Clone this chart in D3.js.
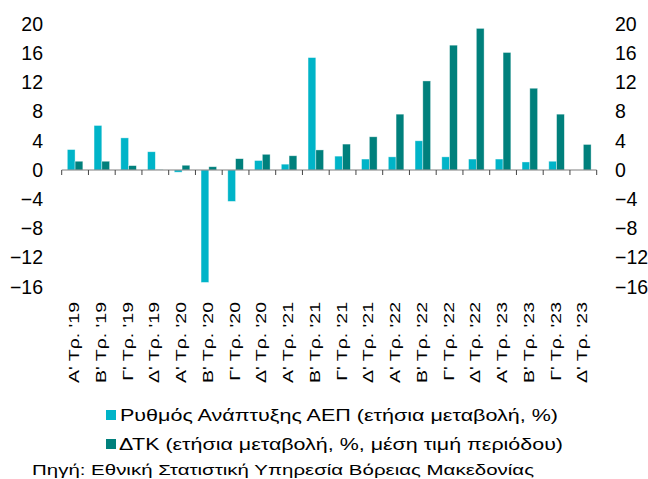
<!DOCTYPE html>
<html>
<head>
<meta charset="utf-8">
<script src="https://cdn.jsdelivr.net/npm/d3@7"></script>
<style>
  html, body { margin: 0; padding: 0; background: #fff; }
  svg { display: block; font-family: "Liberation Sans", Arial, sans-serif; }
</style>
</head>
<body>
<svg id="chart" width="648" height="479"></svg>
<script>
// Quarters shown on the category axis
const quarters = [
  "Α' Τρ. '19", "Β' Τρ. '19", "Γ' Τρ. '19", "Δ' Τρ. '19",
  "Α' Τρ. '20", "Β' Τρ. '20", "Γ' Τρ. '20", "Δ' Τρ. '20",
  "Α' Τρ. '21", "Β' Τρ. '21", "Γ' Τρ. '21", "Δ' Τρ. '21",
  "Α' Τρ. '22", "Β' Τρ. '22", "Γ' Τρ. '22", "Δ' Τρ. '22",
  "Α' Τρ. '23", "Β' Τρ. '23", "Γ' Τρ. '23", "Δ' Τρ. '23"
];

// GDP growth rate, y/y %
const gdpGrowth = [2.8, 6.1, 4.4, 2.5, -0.3, -15.4, -4.3, 1.3, 0.8, 15.4,
                   1.9, 1.5, 1.8, 4.0, 1.8, 1.5, 1.5, 1.1, 1.2, null];

// CPI, y/y %, period average
const cpi = [1.2, 1.2, 0.6, 0.05, 0.65, 0.45, 1.55, 2.15, 1.95, 2.75,
             3.55, 4.55, 7.65, 12.2, 17.1, 19.4, 16.1, 11.2, 7.65, 3.5];

const yTicks = [20, 16, 12, 8, 4, 0, -4, -8, -12, -16];

const seriesNames = [
  "Ρυθμός Ανάπτυξης ΑΕΠ (ετήσια μεταβολή, %)",
  "ΔΤΚ (ετήσια μεταβολή, %, μέση τιμή περιόδου)"
];
const sourceText = "Πηγή: Εθνική Στατιστική Υπηρεσία  Βόρειας  Μακεδονίας";

const colors = ["#00B4C8", "#00807C"];

const svg = d3.select("#chart");

const x = d3.scaleBand().domain(quarters).range([61.7, 596.7]).padding(0);
const bw = x.bandwidth();
const xInner = d3.scaleBand().domain([0, 1]).range([5.6, bw - 5.6]).padding(0);
const y = d3.scaleLinear().domain([-16, 20]).range([286.8, 24]);

// Bars
const seriesData = [gdpGrowth, cpi];
seriesData.forEach((vals, si) => {
  svg.append("g")
    .selectAll("rect")
    .data(vals.map((v, i) => ({ q: quarters[i], v })).filter(d => d.v !== null))
    .join("rect")
    .attr("x", d => x(d.q) + xInner(si))
    .attr("width", xInner.bandwidth())
    .attr("y", d => y(Math.max(0, d.v)))
    .attr("height", d => Math.abs(y(d.v) - y(0)))
    .attr("fill", colors[si])
    .attr("stroke", "rgba(255,255,255,0.55)")
    .attr("stroke-width", 0.7);
});

// Category axis line at zero with tick marks between groups
const axisG = svg.append("g").attr("transform", `translate(0,${y(0)})`);
axisG.append("line")
  .attr("x1", x.range()[0]).attr("x2", x.range()[1])
  .attr("stroke", "#7f7f7f").attr("stroke-width", 1.2);
const boundaries = quarters.map(q => x(q)).concat([x.range()[1]]);
axisG.selectAll("line.tick")
  .data(boundaries)
  .join("line")
  .attr("class", "tick")
  .attr("x1", d => d).attr("x2", d => d)
  .attr("y1", 0).attr("y2", 5)
  .attr("stroke", "#444").attr("stroke-width", 1);

// Rotated quarter labels at the bottom of the plot, stretched along their reading direction
svg.append("g")
  .selectAll("text")
  .data(quarters)
  .join("text")
  .attr("transform", d => `translate(${x(d) + bw / 2 + 4},302) rotate(-90) scale(1.3,1)`)
  .attr("text-anchor", "end")
  .attr("font-size", 15)
  .attr("fill", "#000")
  .text(d => d);

// Left and right value axes
const leftAxis = d3.axisLeft(y).tickValues(yTicks).tickSize(0).tickPadding(0);
svg.append("g")
  .attr("transform", "translate(43,0)")
  .call(leftAxis)
  .call(g => g.select(".domain").remove())
  .call(g => g.selectAll("text")
    .attr("font-size", 19.5)
    .attr("font-family", "Liberation Sans, Arial, sans-serif")
    .attr("fill", "#000"));

const rightAxis = d3.axisRight(y).tickValues(yTicks).tickSize(0).tickPadding(0);
svg.append("g")
  .attr("transform", "translate(615,0)")
  .call(rightAxis)
  .call(g => g.select(".domain").remove())
  .call(g => g.selectAll("text")
    .attr("font-size", 19.5)
    .attr("font-family", "Liberation Sans, Arial, sans-serif")
    .attr("fill", "#000"));

// Legend
const legendRows = [
  { sq: [106, 410], tx: [120, 421], end: 558 },
  { sq: [106, 439], tx: [119, 450], end: 563 }
];
seriesNames.forEach((name, i) => {
  const r = legendRows[i];
  svg.append("rect")
    .attr("x", r.sq[0]).attr("y", r.sq[1])
    .attr("width", 10).attr("height", 10)
    .attr("fill", colors[i]);
  svg.append("text")
    .attr("x", r.tx[0]).attr("y", r.tx[1])
    .attr("font-size", 16.5)
    .attr("textLength", r.end - r.tx[0])
    .attr("lengthAdjust", "spacingAndGlyphs")
    .attr("fill", "#000")
    .text(name);
});

// Source line
svg.append("text")
  .attr("x", 32).attr("y", 475)
  .attr("font-size", 15.5)
  .attr("textLength", 534 - 32)
  .attr("lengthAdjust", "spacingAndGlyphs")
  .attr("fill", "#000")
  .text(sourceText);
</script>
</body>
</html>
